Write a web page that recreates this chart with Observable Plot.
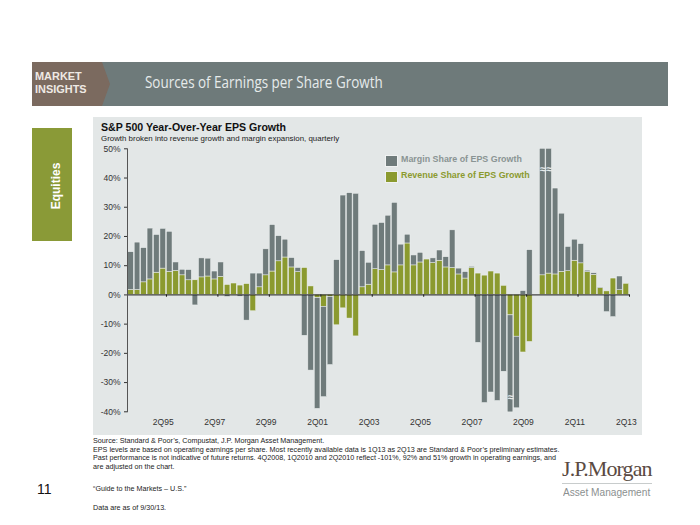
<!DOCTYPE html>
<html>
<head>
<meta charset="utf-8">
<script src="https://cdn.jsdelivr.net/npm/d3@7"></script>
<script src="https://cdn.jsdelivr.net/npm/@observablehq/plot@0.6"></script>
<style>
  body { margin: 0; background: #fff; font-family: "Liberation Sans", Arial, sans-serif; }
  #page { position: relative; width: 700px; height: 525px; overflow: hidden; background: #fff; }
  .abs { position: absolute; white-space: nowrap; line-height: 1; }
</style>
</head>
<body>
<div id="page">
  <!-- banner -->
  <div class="abs" style="left:32px;top:62px;width:636px;height:44px;background:#6e7a7a;"></div>
  <div class="abs" style="left:32px;top:62px;width:78px;height:44px;background:#7b6a5f;clip-path:polygon(0 0,70px 0,78px 50%,70px 100%,0 100%);"></div>
  <div class="abs" style="left:35px;top:71px;font-size:11.5px;font-weight:bold;color:#efe9e4;transform:scaleX(0.95);transform-origin:left top;">MARKET</div>
  <div class="abs" style="left:35px;top:84px;font-size:11.5px;font-weight:bold;color:#efe9e4;transform:scaleX(0.95);transform-origin:left top;">INSIGHTS</div>
  <div class="abs" style="left:145px;top:73px;font-family:'Open Sans',sans-serif;font-size:17px;color:#e6ebeb;transform:scaleX(0.79);transform-origin:left top;">Sources of Earnings per Share Growth</div>

  <!-- side tab -->
  <div class="abs" style="left:32px;top:128px;width:40px;height:113px;background:#8a9a37;"></div>
  <div class="abs" style="left:56px;top:186px;font-size:12px;font-weight:bold;color:#fff;transform:translate(-50%,-50%) rotate(-90deg);">Equities</div>

  <!-- chart panel -->
  <div class="abs" style="left:93px;top:117px;width:549px;height:318px;background:#e3e7e7;"></div>
  <div class="abs" style="left:101px;top:121.6px;font-size:10.6px;font-weight:bold;color:#111;">S&amp;P 500 Year-Over-Year EPS Growth</div>
  <div class="abs" style="left:101px;top:134.9px;font-size:7.9px;color:#222;">Growth broken into revenue growth and margin expansion, quarterly</div>

  <!-- legend -->
  <div class="abs" style="left:384.5px;top:154.5px;width:11px;height:10px;background:#6f7b7b;border:0.5px solid #f0f2f2;"></div>
  <div class="abs" style="left:401px;top:155.3px;font-size:8.9px;font-weight:bold;color:#8a9494;">Margin Share of EPS Growth</div>
  <div class="abs" style="left:384.5px;top:170.5px;width:11px;height:10px;background:#8b9a2f;border:0.5px solid #f0f2f2;"></div>
  <div class="abs" style="left:401px;top:171.3px;font-size:8.9px;font-weight:bold;color:#8b9a2f;">Revenue Share of EPS Growth</div>

  <div id="chart" class="abs" style="left:0;top:0;"></div>

  <!-- footnotes -->
  <div class="abs" style="left:93px;top:437px;font-size:7.2px;line-height:8.6px;color:#222;">Source: Standard &amp; Poor’s, Compustat, J.P. Morgan Asset Management.<br>EPS levels are based on operating earnings per share. Most recently available data is 1Q13 as 2Q13 are Standard &amp; Poor’s preliminary estimates.<br>Past performance is not indicative of future returns. 4Q2008, 1Q2010 and 2Q2010 reflect -101%, 92% and 51% growth in operating earnings, and<br>are adjusted on the chart.</div>
  <div class="abs" style="left:93px;top:485px;font-size:7.2px;color:#222;">“Guide to the Markets – U.S.”</div>
  <div class="abs" style="left:93px;top:504px;font-size:7.2px;color:#222;">Data are as of 9/30/13.</div>
  <div class="abs" style="left:37px;top:482px;font-size:14px;color:#111;">11</div>

  <!-- logo -->
  <div class="abs" style="left:562px;top:458px;font-family:'Liberation Serif',serif;font-size:22px;letter-spacing:-0.9px;color:#5a4a42;">J.P.Morgan</div>
  <div class="abs" style="left:562px;top:482.5px;width:90px;height:1.5px;background:#c8cccc;"></div>
  <div class="abs" style="left:563px;top:486.5px;font-size:11px;color:#8b9090;transform:scaleX(0.92);transform-origin:left top;">Asset Management</div>
</div>

<script>
// Quarterly categories (1Q94 .. 2Q13)
const quarters = [
  "1Q94","2Q94","3Q94","4Q94","1Q95","2Q95","3Q95","4Q95",
  "1Q96","2Q96","3Q96","4Q96","1Q97","2Q97","3Q97","4Q97",
  "1Q98","2Q98","3Q98","4Q98","1Q99","2Q99","3Q99","4Q99",
  "1Q00","2Q00","3Q00","4Q00","1Q01","2Q01","3Q01","4Q01",
  "1Q02","2Q02","3Q02","4Q02","1Q03","2Q03","3Q03","4Q03",
  "1Q04","2Q04","3Q04","4Q04","1Q05","2Q05","3Q05","4Q05",
  "1Q06","2Q06","3Q06","4Q06","1Q07","2Q07","3Q07","4Q07",
  "1Q08","2Q08","3Q08","4Q08","1Q09","2Q09","3Q09","4Q09",
  "1Q10","2Q10","3Q10","4Q10","1Q11","2Q11","3Q11","4Q11",
  "1Q12","2Q12","3Q12","4Q12","1Q13","2Q13"
];

// Revenue share of YoY EPS growth (%)
const revenueShare = [
  1.7, 1.7, 4.3, 5.3, 7.6, 9.0, 7.9, 8.2,
  6.7, 5.0, 5.0, 6.0, 6.3, 5.3, 6.2, 3.4,
  3.9, 3.2, 3.7, -5.6, 2.6, 6.7, 8.0, 11.5,
  12.8, 9.4, 7.8, 9.2, 2.9, -1.1, -4.1, -0.7,
  -10.4, -4.6, -8.1, -14.2, 2.6, 3.5, 8.8, 8.5,
  10.1, 7.7, 10.1, 17.6, 10.1, 11.1, 12.1, 10.9,
  11.7, 9.4, 9.2, 7.0, 5.6, 9.2, 7.3, 6.6,
  8.0, 7.3, 3.1, -7.0, -14.3, -19.7, -16.1, null,
  6.7, 7.3, 7.0, 7.9, 8.1, 11.7, 10.8, 7.8,
  6.9, 2.3, 1.2, 5.6, 1.6, 3.8
];

// Margin share of YoY EPS growth (%), as drawn (4Q08, 1Q10, 2Q10 adjusted on the chart)
const marginShare = [
  12.9, 16.2, 11.7, 17.4, 12.9, 13.6, 13.7, 2.9,
  1.9, 3.5, -3.6, 6.5, 6.1, 2.7, 4.9, -0.7,
  0, -0.6, -8.8, 7.3, 4.7, 8.9, 15.9, 8.6,
  6.1, 3.2, 1.4, -14.0, -25.9, -37.9, -30.9, -23.3,
  11.9, 34.0, 34.8, 34.6, 12.4, 7.5, 15.2, 16.1,
  17.0, 23.8, 7.1, 3.0, 3.4, 3.3, 0, 1.6,
  3.5, 3.5, 12.9, 2.0, 2.2, 0.4, -16.4, -37.0,
  -33.4, -36.3, -26.3, -33.2, -24.5, 1.3, 15.3, null,
  43.3, 42.7, 29.4, 19.9, 8.3, 7.2, 6.6, 0.5,
  0.5, 0.2, -5.9, -7.6, 4.7, 0
];

// Axis-break markers on the adjusted bars
const breakQuarters = ["4Q08", "1Q10", "2Q10"];
const breakLevels = [-35, 43, 43];

const xTickLabels = ["2Q95","2Q97","2Q99","2Q01","2Q03","2Q05","2Q07","2Q09","2Q11","2Q13"];
const yTicks = [-40, -30, -20, -10, 0, 10, 20, 30, 40, 50];

const seriesNames = ["Revenue Share of EPS Growth", "Margin Share of EPS Growth"];
const seriesColors = ["#8b9a2f", "#6f7b7b"];

const rows = [];
quarters.forEach((q, i) => {
  if (revenueShare[i] != null) rows.push({quarter: q, series: seriesNames[0], value: revenueShare[i]});
  if (marginShare[i] != null) rows.push({quarter: q, series: seriesNames[1], value: marginShare[i]});
});
const breaks = breakQuarters.map((q, i) => ({quarter: q, level: breakLevels[i]}));

const chart = Plot.plot({
  width: 700,
  height: 525,
  marginLeft: 127,
  marginRight: 70.6,
  marginTop: 148.3,
  marginBottom: 113.7,
  style: {background: "transparent", fontFamily: "'Liberation Sans', Arial, sans-serif", color: "#333"},
  x: {type: "band", domain: quarters, padding: 0.12, axis: null},
  y: {domain: [-40, 50], axis: null},
  color: {domain: seriesNames, range: seriesColors},
  marks: [
    Plot.barY(rows, Plot.stackY({
      x: "quarter", y: "value", z: "series", fill: "series",
      order: seriesNames, stroke: "#eef1f1", strokeWidth: 0.5
    })),
    Plot.text(breaks, {x: "quarter", y: "level", text: () => "≈", fill: "#e9eded", fontSize: 11, fontWeight: "bold"}),
    Plot.ruleY([0], {stroke: "#1a1a1a", strokeWidth: 1}),
    Plot.ruleX(xTickLabels, {x: d => d, dx: 3.2, y1: 0, y2: -0.8, stroke: "#1a1a1a"}),
    Plot.axisY({ticks: yTicks, tickFormat: d => d + "%", tickSize: 3, tickPadding: 4, fontSize: 8.5, color: "#333", label: null}),
    Plot.frame({anchor: "left", stroke: "#555"}),
    Plot.axisX({ticks: xTickLabels, tickSize: 0, tickPadding: 7.4, fontSize: 8.5, color: "#333", label: null})
  ]
});
document.getElementById("chart").appendChild(chart);
</script>
</body>
</html>
